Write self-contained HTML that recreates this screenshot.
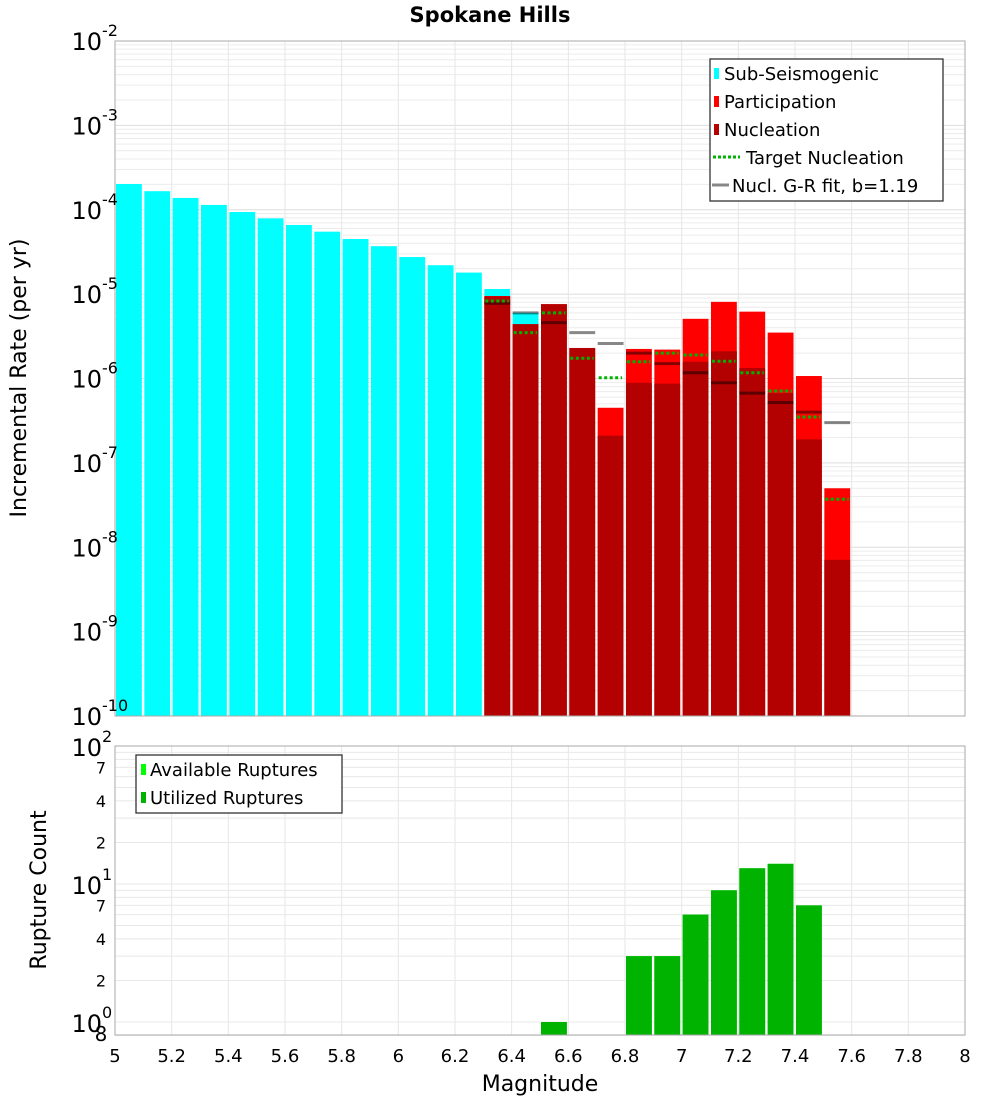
<!DOCTYPE html>
<html><head><meta charset="utf-8"><style>
html,body{margin:0;padding:0;background:#fff;}
svg{display:block;font-family:"DejaVu Sans","Liberation Sans",sans-serif;}
</style></head><body>
<svg id="chart" width="1000" height="1100" viewBox="0 0 1000 1100" xmlns="http://www.w3.org/2000/svg">
<text x="490" y="22" text-anchor="middle" font-size="21" font-weight="bold">Spokane Hills</text>
<g id="top-grid"></g><g id="top-bars"></g><g id="top-lines"></g>
<rect x="115" y="41" width="850" height="675" fill="none" stroke="#aaa" stroke-width="1"/>
<g id="top-yticks"></g>
<text transform="translate(26,378) rotate(-90)" text-anchor="middle" font-size="22">Incremental Rate (per yr)</text>
<g>
<rect x="710" y="59" width="233" height="142" fill="#fff" stroke="#333" stroke-width="1.3"/>
<rect x="714" y="68" width="5" height="11" fill="#00ffff"/><text x="724" y="80" font-size="18">Sub-Seismogenic</text>
<rect x="714" y="96" width="5" height="11" fill="#ff0000"/><text x="724" y="108" font-size="18">Participation</text>
<rect x="714" y="124" width="5" height="11" fill="#b30000"/><text x="724" y="136" font-size="18">Nucleation</text>
<line x1="713" y1="157" x2="740" y2="157" stroke="#00b300" stroke-width="3" stroke-dasharray="3,2"/><text x="746" y="164" font-size="18">Target Nucleation</text>
<line x1="712" y1="185" x2="729" y2="185" stroke="#888" stroke-width="3"/><text x="732" y="192" font-size="18">Nucl. G-R fit, b=1.19</text>
</g>
<g id="bot-grid"></g><g id="bot-bars"></g>
<rect x="115" y="746" width="850" height="289" fill="none" stroke="#aaa" stroke-width="1"/>
<g id="bot-yticks"></g>
<text transform="translate(46,890) rotate(-90)" text-anchor="middle" font-size="22">Rupture Count</text>
<g>
<rect x="136" y="755" width="206" height="58" fill="#fff" stroke="#333" stroke-width="1.3"/>
<rect x="141" y="764" width="5" height="11" fill="#00ff00"/><text x="150" y="776" font-size="18">Available Ruptures</text>
<rect x="141" y="792" width="5" height="11" fill="#00b300"/><text x="150" y="804" font-size="18">Utilized Ruptures</text>
</g>
<g id="xticks"></g>
<text x="540" y="1091" text-anchor="middle" font-size="22">Magnitude</text>
</svg>
<script>
const subMags=[5.0,5.1,5.2,5.3,5.4,5.5,5.6,5.7,5.8,5.9,6.0,6.1,6.2,6.3,6.4];
const subRates=[2.02e-4,1.66e-4,1.38e-4,1.14e-4,9.4e-5,7.9e-5,6.6e-5,5.5e-5,4.5e-5,3.7e-5,2.75e-5,2.2e-5,1.8e-5,1.15e-5,6.0e-6];
const supMags=[6.3,6.4,6.5,6.6,6.7,6.8,6.9,7.0,7.1,7.2,7.3,7.4,7.5];
const partRates=[9.5e-6,4.4e-6,7.6e-6,2.3e-6,4.5e-7,2.24e-6,2.2e-6,5.1e-6,8.1e-6,6.2e-6,3.5e-6,1.07e-6,5.0e-8];
const nuclRates=[9.4e-6,4.4e-6,7.6e-6,2.3e-6,2.1e-7,8.9e-7,8.7e-7,1.58e-6,2.1e-6,1.33e-6,6.7e-7,1.9e-7,7.1e-9];
const targetRates=[8.3e-6,3.5e-6,6.0e-6,1.74e-6,1.02e-6,1.58e-6,2.0e-6,1.9e-6,1.6e-6,1.17e-6,7.1e-7,3.5e-7,3.7e-8];
const grRates=[7.8e-6,6.0e-6,4.6e-6,3.5e-6,2.6e-6,2.0e-6,1.5e-6,1.17e-6,8.9e-7,6.7e-7,5.2e-7,4.0e-7,3.0e-7];
const countMags=[6.5,6.6,6.7,6.8,6.9,7.0,7.1,7.2,7.3,7.4];
const availCounts=[1,0,0,3,3,6,9,13,14,7];
const usedCounts=[1,0,0,3,3,6,9,13,14,7];
const xTicks=["5","5.2","5.4","5.6","5.8","6","6.2","6.4","6.6","6.8","7","7.2","7.4","7.6","7.8","8"];

const NS="http://www.w3.org/2000/svg";
function mk(parent,tag,attrs){const e=document.createElementNS(NS,tag);for(const k in attrs)e.setAttribute(k,attrs[k]);document.getElementById(parent).appendChild(e);return e;}
const X=m=>115+(m-5)*850/3;
const binW=850/30;
const Yt=v=>41+(-2-Math.log10(v))*675/8;
const TOPB=716;
const Yb=v=>746+(2-Math.log10(v))*138;
const BOTB=1035;

// top grid
for(let d=-10;d<-2;d++){for(let k=1;k<10;k++){const y=Yt(k*Math.pow(10,d));
const g=mk('top-grid','line',{x1:115,x2:965,y1:y,y2:y,stroke:k==1?'#ddd':'#ececec','stroke-width':1});

}}
for(let i=0;i<xTicks.length;i++){const x=X(parseFloat(xTicks[i]));
const g=mk('top-grid','line',{x1:x,x2:x,y1:41,y2:716,stroke:'#e6e6e6'});


const g2=mk('bot-grid','line',{x1:x,x2:x,y1:746,y2:1035,stroke:'#e6e6e6'});


const t=mk('xticks','text',{x:x,y:1062,'text-anchor':'middle','font-size':18});
t.textContent=xTicks[i];

}
// top y ticks
for(let d=-10;d<=-2;d++){const y=Yt(Math.pow(10,d));
const t=mk('top-yticks','text',{x:102,y:y+9,'text-anchor':'end','font-size':24});t.textContent='10';


const s=mk('top-yticks','text',{x:102,y:y-5,'font-size':16});s.textContent=String(d);

}
// bars
function bar(g,m,v,fill,base,yf,name){const y=yf(v);const r=mk(g,'rect',{x:X(m)+1,y:y,width:binW-2.5,height:Math.max(0,base-y),fill:fill});

}
subMags.forEach((m,i)=>bar('top-bars',m,subRates[i],'#00ffff',TOPB,Yt,'sub-seismogenic-bar'));
supMags.forEach((m,i)=>bar('top-bars',m,partRates[i],'#ff0000',TOPB,Yt,'participation-bar'));
supMags.forEach((m,i)=>bar('top-bars',m,nuclRates[i],'#b30000',TOPB,Yt,'nucleation-bar'));
supMags.forEach((m,i)=>{const y=Yt(grRates[i]);const l=mk('top-lines','line',{x1:X(m)+1,x2:X(m)+binW-1.5,y1:y,y2:y,stroke:'rgba(0,0,0,0.47)','stroke-width':3});

});
supMags.forEach((m,i)=>{const y=Yt(targetRates[i]);const l=mk('top-lines','line',{x1:X(m)+2,x2:X(m)+binW-3,y1:y,y2:y,stroke:'#00b300','stroke-width':3,'stroke-dasharray':'3,2.5'});

});
// bottom grid
const botVals=[0.8,1,2,3,4,5,6,7,8,9,10,20,30,40,50,60,70,80,90,100];
botVals.forEach(v=>{const y=Yb(v);const g=mk('bot-grid','line',{x1:115,x2:965,y1:y,y2:y,stroke:'#e8e8e8'});

});
[[100,'2'],[10,'1'],[1,'0']].forEach(([v,e])=>{const y=Yb(v);
const t=mk('bot-yticks','text',{x:102,y:y+10,'text-anchor':'end','font-size':24});t.textContent='10';


const s=mk('bot-yticks','text',{x:102,y:y-4,'font-size':16});s.textContent=e;

});
[[70,'7'],[40,'4'],[20,'2'],[7,'7'],[4,'4'],[2,'2']].forEach(([v,l])=>{const t=mk('bot-yticks','text',{x:106,y:Yb(v)+6,'text-anchor':'end','font-size':16});t.textContent=l;

});
{const t=mk('bot-yticks','text',{x:101,y:1041,'text-anchor':'middle','font-size':20});t.textContent='8';

}
countMags.forEach((m,i)=>{if(availCounts[i]>0)bar('bot-bars',m,availCounts[i],'#00ff00',BOTB,Yb,'available-ruptures-bar');});
countMags.forEach((m,i)=>{if(usedCounts[i]>0)bar('bot-bars',m,usedCounts[i],'#00b300',BOTB,Yb,'utilized-ruptures-bar');});
</script>
</body></html>
